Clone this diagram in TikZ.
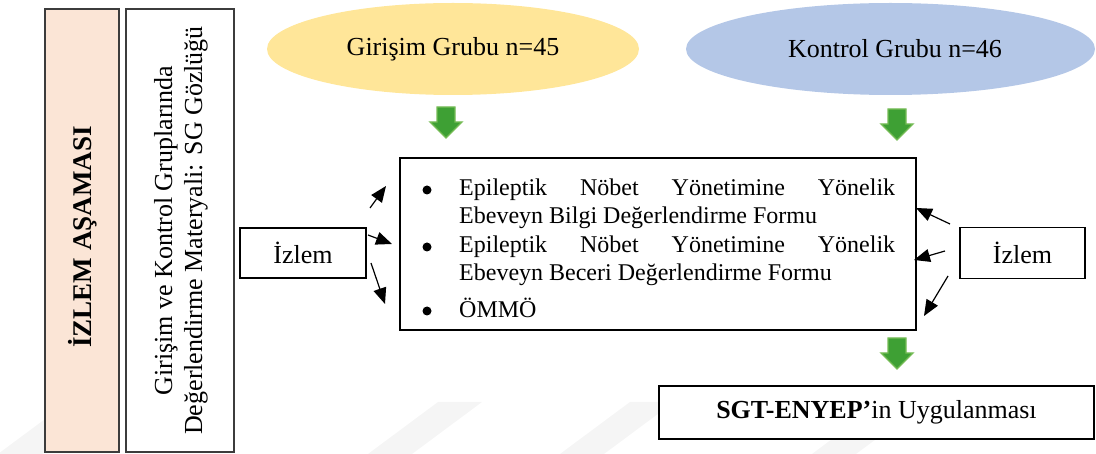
\documentclass[tikz,border=0pt]{standalone}
\usepackage{fontspec}
\setmainfont{Liberation Serif}
\usetikzlibrary{arrows.meta,shapes.geometric}

\definecolor{peach}{RGB}{251,229,214}
\definecolor{goldlight}{RGB}{255,230,153}
\definecolor{bluelight}{RGB}{180,199,231}
\definecolor{arrowgreen}{RGB}{62,160,52}
\definecolor{arrowedge}{RGB}{118,188,86}
\definecolor{markgray}{RGB}{245,245,245}
\definecolor{framegray}{RGB}{60,60,60}

\tikzset{
  big/.style={font=\fontsize{26}{30}\selectfont},
  boxtxt/.style={font=\fontsize{24}{28}\selectfont},
  frame/.style={draw=black, line width=1.7pt, fill=white, inner sep=0pt},
  sideframe/.style={draw=framegray, line width=1.5pt, inner sep=0pt},
  group/.style={ellipse, draw=none, inner sep=0pt, big},
  link/.style={-{Triangle[length=16pt,width=13pt]}, line width=1.2pt},
  line/.style={boxtxt, anchor=base west, inner sep=0pt},
  dot/.style={circle, fill=black, inner sep=0pt, minimum size=9pt},
  down/.pic={
    \path[fill=arrowgreen, draw=arrowedge, line width=1.3pt, line join=miter]
      (-9,0) -- (9,0) -- (9,15) -- (16,15) -- (0,31) -- (-16,15) -- (-9,15) -- cycle;
  }
}

\begin{document}
\begin{tikzpicture}[x=1pt,y=-1pt]
\useasboundingbox (0,0) rectangle (1096,454);

% faint watermark bars along the bottom edge
\foreach \b in {-2,368,560,812}
  \fill[markgray] (\b,454) -- (\b+44,454) -- (\b+114,402) -- (\b+70,402) -- cycle;

% left-hand phase columns
\node[sideframe, fill=peach, minimum width=74pt, minimum height=443pt] (phase) at (82,230.5) {};
\node[big, font=\fontsize{27}{30}\selectfont\bfseries, rotate=90] (phaselbl) at (83,237) {İZLEM AŞAMASI};
\node[sideframe, fill=white, minimum width=108pt, minimum height=443pt] (material) at (180,230.5) {};
\node[big, rotate=90, align=center] (materiallbl) at (181,230.5)
  {Girişim ve Kontrol Gruplarında\\Değerlendirme Materyali: SG Gözlüğü};

% study groups
\node[group, fill=goldlight, minimum width=372pt, minimum height=92pt] (gir) at (453,49) {Girişim Grubu n=45};
\node[group, fill=bluelight, minimum width=409pt, minimum height=92pt] (kon) at (890.5,49) {\hspace*{9pt}Kontrol Grubu n=46};

\pic at (446,107) {down};
\pic at (897,109) {down};

% assessment forms
\node[frame, minimum width=516pt, minimum height=172pt] (forms) at (658,244) {};
\node[dot] (d1) at (427,190) {};
\node[line] (t1) at (459,196) {\makebox[436pt][s]{Epileptik Nöbet Yönetimine Yönelik}};
\node[line] (t2) at (459,224) {Ebeveyn Bilgi Değerlendirme Formu};
\node[dot] (d2) at (427,247) {};
\node[line] (t3) at (459,253) {\makebox[436pt][s]{Epileptik Nöbet Yönetimine Yönelik}};
\node[line] (t4) at (459,281) {Ebeveyn Beceri Değerlendirme Formu};
\node[dot] (d3) at (427,311) {};
\node[line] (t5) at (459,318) {ÖMMÖ};

% follow-up boxes
\node[frame, big, minimum width=126pt, minimum height=50pt] (izL) at (303,253) {İzlem};
\node[frame, big, minimum width=125pt, minimum height=51pt] (izR) at (1022.5,253) {İzlem};

\coordinate (la1) at (370,208); \coordinate (lb1) at (386,186);
\coordinate (la2) at (368,235); \coordinate (lb2) at (392,244);
\coordinate (la3) at (371,263); \coordinate (lb3) at (385,304);
\draw[link] (la1) -- (lb1);
\draw[link] (la2) -- (lb2);
\draw[link] (la3) -- (lb3);

\coordinate (ra1) at (950,224); \coordinate (rb1) at (916,208);
\coordinate (ra2) at (945,251); \coordinate (rb2) at (914,260);
\coordinate (ra3) at (948,276); \coordinate (rb3) at (924,316);
\draw[link] (ra1) -- (rb1);
\draw[link] (ra2) -- (rb2);
\draw[link] (ra3) -- (rb3);

\pic at (897,338) {down};

% programme delivery
\node[frame, big, minimum width=435pt, minimum height=53pt] (apply) at (876.5,412.5)
  {\textbf{SGT-ENYEP’}in Uygulanması};
\end{tikzpicture}
\end{document}
